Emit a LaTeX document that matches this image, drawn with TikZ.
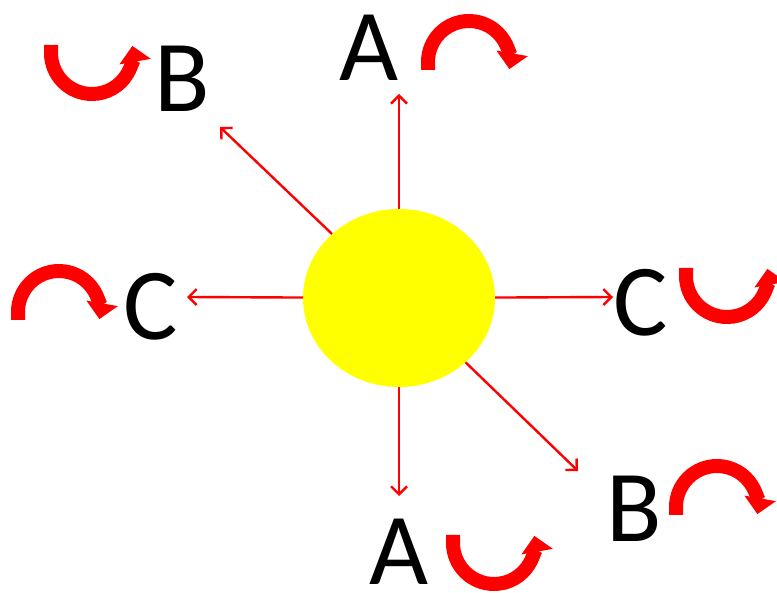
\documentclass[tikz,border=0pt]{standalone}
\usepackage{fontspec}
\setmainfont{Carlito}
\usetikzlibrary{arrows.meta, shapes.geometric}
\definecolor{sunyellow}{RGB}{255,255,0}
\definecolor{turnred}{RGB}{255,0,0}

\begin{document}
\begin{tikzpicture}[
    x=1pt, y=-1pt,
    sun/.style={ellipse, fill=sunyellow, minimum width=192pt, minimum height=178pt, inner sep=0pt},
    ray/.style={turnred, line width=2.4pt, -{Straight Barb[length=8pt, width=16pt]}},
    letter/.style={anchor=base, inner sep=0pt, font=\fontsize{102}{102}\selectfont},
    turn/.style={turnred, line width=14pt, -{Triangle[width=31pt, length=16pt]}},
    turnarrow/.pic={\draw[turn] (-41,8) -- (-41,0) arc[start angle=180, end angle=370, radius=41];}
]
\useasboundingbox (0,0) rectangle (777,593);

% Sun
\node[sun] (sun) at (399,298) {};

% Ray ends
\coordinate (tA1) at (399,94);
\coordinate (tB1) at (220,127);
\coordinate (tC1) at (187,297);
\coordinate (tC2) at (613,297);
\coordinate (tB2) at (578,471);
\coordinate (tA2) at (399,496);

% Labels
\node[letter] (A1) at (369,81) {A};
\node[letter] (B1) at (182,112) {B};
\node[letter] (C1) at (151,340) {C};
\node[letter] (C2) at (641,336) {C};
\node[letter] (B2) at (634,542) {B};
\node[letter] (A2) at (399,584) {A};

% Rays
\draw[ray] (sun) -- (tA1);
\draw[ray] (sun) -- (tB1);
\draw[ray] (sun) -- (tC1);
\draw[ray] (sun) -- (tC2);
\draw[ray] (sun) -- (tB2);
\draw[ray] (sun) -- (tA2);

% Turning arrows
\pic at (469,62) {turnarrow};
\pic at (59,312) {turnarrow};
\pic at (717,507) {turnarrow};
\pic[yscale=-1] at (92,53) {turnarrow};
\pic[yscale=-1] at (727,276) {turnarrow};
\pic[yscale=-1] at (494,543) {turnarrow};

\end{tikzpicture}
\end{document}
